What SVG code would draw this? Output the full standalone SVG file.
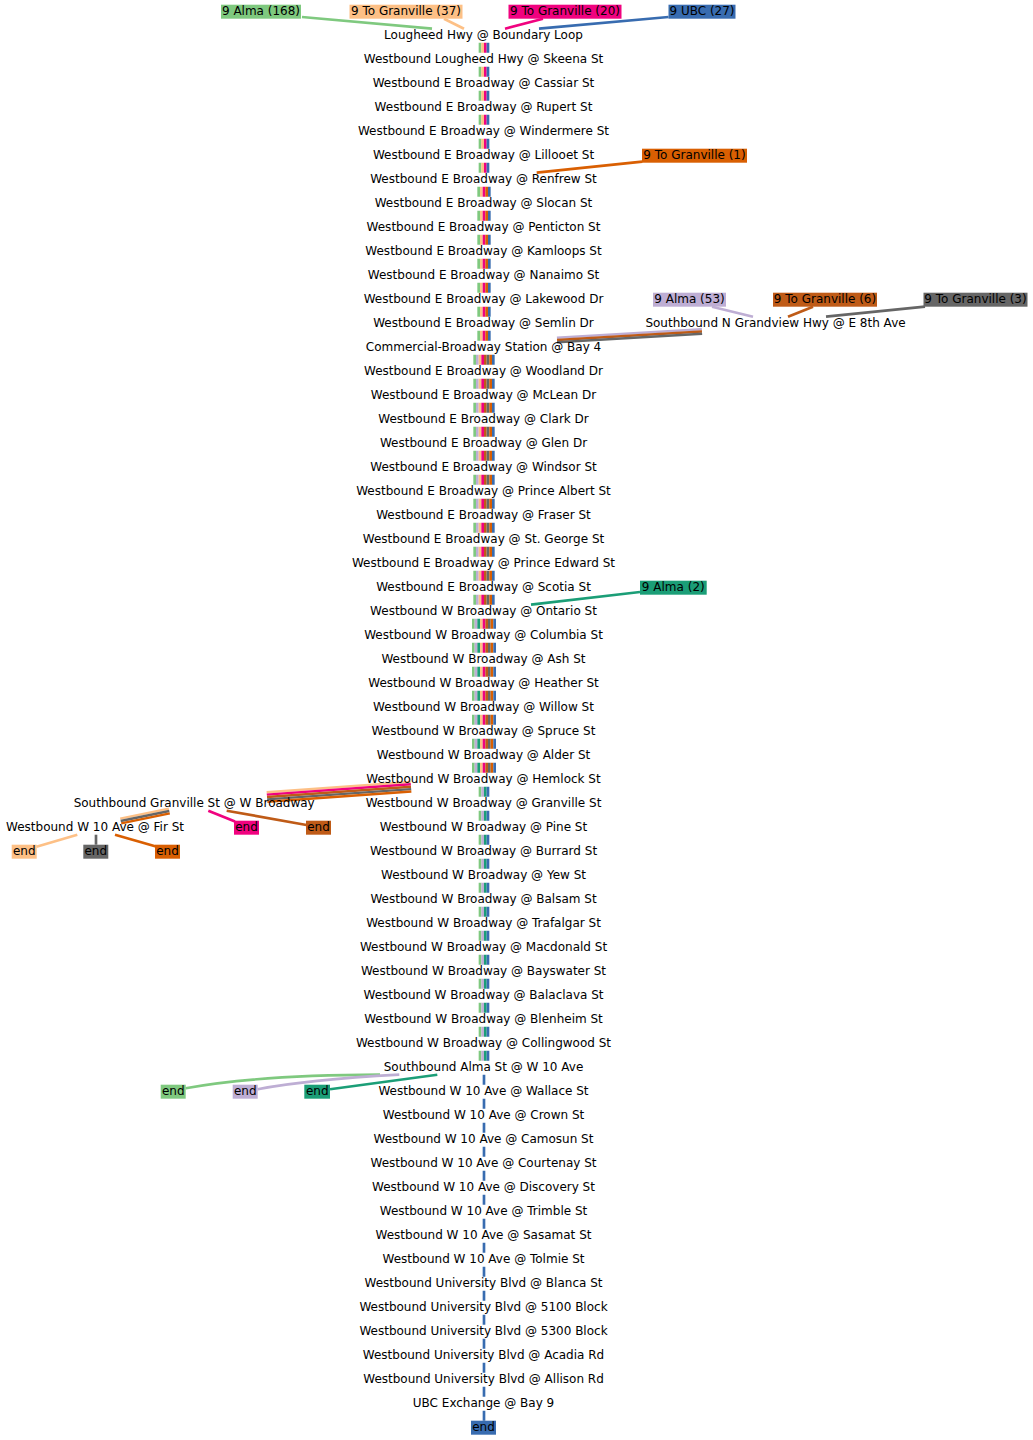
<svg xmlns="http://www.w3.org/2000/svg" width="1033" height="1440" viewBox="0 0 1033 1440">
<style>
text{font-family:"DejaVu Sans","Liberation Sans",sans-serif;font-size:12px;fill:#000;text-anchor:middle}
.e{fill:none;stroke-width:2.67}
.d{fill:none;stroke-width:2.67;stroke-dasharray:10 14}
.b{fill:none;stroke-width:2.4}
.G{stroke:#7fc97f}.L{stroke:#beaed4}.T{stroke:#1b9e77}.P{stroke:#fdc086}.K{stroke:#f0027f}.B{stroke:#bf5b17}.Y{stroke:#666666}.O{stroke:#d95f02}.U{stroke:#386cb0}
.fG{fill:#7fc97f}.fL{fill:#beaed4}.fT{fill:#1b9e77}.fP{fill:#fdc086}.fK{fill:#f0027f}.fB{fill:#bf5b17}.fY{fill:#666666}.fO{fill:#d95f02}.fU{fill:#386cb0}
</style>
<rect width="1033" height="1440" fill="#fff"/>
<g id="connectors">
<g id="secA">
<line class="d G" x1="480" y1="42.7" x2="480" y2="172.7"/>
<line class="d P" x1="482.67" y1="42.7" x2="482.67" y2="172.7"/>
<line class="d K" x1="485.33" y1="42.7" x2="485.33" y2="172.7"/>
<line class="d U" x1="488" y1="42.7" x2="488" y2="172.7"/>
</g>
<g id="secB">
<line class="d G" x1="478.67" y1="186.7" x2="478.67" y2="340.7"/>
<line class="d P" x1="481.33" y1="186.7" x2="481.33" y2="340.7"/>
<line class="d K" x1="484" y1="186.7" x2="484" y2="340.7"/>
<line class="d O" x1="486.67" y1="186.7" x2="486.67" y2="340.7"/>
<line class="d U" x1="489.33" y1="186.7" x2="489.33" y2="340.7"/>
</g>
<g id="secC">
<line class="d G" x1="474.67" y1="354.7" x2="474.67" y2="604.7"/>
<line class="d L" x1="477.33" y1="354.7" x2="477.33" y2="604.7"/>
<line class="d P" x1="480" y1="354.7" x2="480" y2="604.7"/>
<line class="d K" x1="482.67" y1="354.7" x2="482.67" y2="604.7"/>
<line class="d B" x1="485.33" y1="354.7" x2="485.33" y2="604.7"/>
<line class="d Y" x1="488" y1="354.7" x2="488" y2="604.7"/>
<line class="d O" x1="490.67" y1="354.7" x2="490.67" y2="604.7"/>
<line class="d U" x1="493.33" y1="354.7" x2="493.33" y2="604.7"/>
</g>
<g id="secD">
<line class="d G" x1="473.33" y1="618.7" x2="473.33" y2="772.7"/>
<line class="d L" x1="476" y1="618.7" x2="476" y2="772.7"/>
<line class="d T" x1="478.67" y1="618.7" x2="478.67" y2="772.7"/>
<line class="d P" x1="481.33" y1="618.7" x2="481.33" y2="772.7"/>
<line class="d K" x1="484" y1="618.7" x2="484" y2="772.7"/>
<line class="d B" x1="486.67" y1="618.7" x2="486.67" y2="772.7"/>
<line class="d Y" x1="489.33" y1="618.7" x2="489.33" y2="772.7"/>
<line class="d O" x1="492" y1="618.7" x2="492" y2="772.7"/>
<line class="d U" x1="494.67" y1="618.7" x2="494.67" y2="772.7"/>
</g>
<g id="secE">
<line class="d G" x1="480" y1="786.7" x2="480" y2="1060.7"/>
<line class="d L" x1="482.67" y1="786.7" x2="482.67" y2="1060.7"/>
<line class="d T" x1="485.33" y1="786.7" x2="485.33" y2="1060.7"/>
<line class="d U" x1="488" y1="786.7" x2="488" y2="1060.7"/>
</g>
<g id="secF">
<line class="d U" x1="484" y1="1074.7" x2="484" y2="1420.7"/>
</g>
<path class="e G" d="M302,17 L432,28.7"/>
<path class="e P" d="M444,18.7 L464,28.7"/>
<path class="e K" d="M543,18.7 L505,28.7"/>
<path class="e U" d="M668.5,17 L539,28.7"/>
<path class="e O" d="M642.3,161.7 L536.7,172.7"/>
<path class="e L" d="M712,306.7 L753,316.7"/>
<path class="e B" d="M813,306.7 L788,316.7"/>
<path class="e Y" d="M925,306.7 L826,316.7"/>
<path class="e T" d="M640,592 L531,604.7"/>
<path class="b L" d="M701.9,329.3 L556.9,337.8"/>
<path class="b B" d="M702,331.5 L557,340"/>
<path class="b Y" d="M702.1,333.7 L557.1,342.2"/>
<path class="b P" d="M410.66,781.9 L266.66,792.2"/>
<path class="b K" d="M410.83,784.3 L266.83,794.6"/>
<path class="b B" d="M411,786.7 L267,797"/>
<path class="b Y" d="M411.17,789.1 L267.17,799.4"/>
<path class="b O" d="M411.34,791.5 L267.34,801.8"/>
<path class="e K" d="M208.3,810.7 L235,821.5"/>
<path class="e B" d="M226.7,810.7 L306.5,825"/>
<path class="b P" d="M168.8,808.6 L120.2,818.6"/>
<path class="b Y" d="M169.3,811 L120.7,821"/>
<path class="b O" d="M169.8,813.4 L121.2,823.4"/>
<path class="e P" d="M77.3,834.7 L36.5,846.7"/>
<path class="e Y" d="M96,834.7 L96,844.7"/>
<path class="e O" d="M115,834.7 L156,846.5"/>
<path class="e G" d="M380,1074.7 C300,1075 230,1080 185.7,1088.3"/>
<path class="e L" d="M399.3,1074.7 C340,1078 290,1083 257.7,1089.3"/>
<path class="e T" d="M437.3,1074.7 L330,1089.3"/>
</g>
<g id="routes">
<g id="r-alma168"><rect class="fG" x="221" y="4.7" width="80" height="14"/><text x="261" y="15">9 Alma (168)</text></g>
<g id="r-gran37"><rect class="fP" x="349.5" y="4.7" width="113" height="14"/><text x="406" y="15">9 To Granville (37)</text></g>
<g id="r-gran20"><rect class="fK" x="508.5" y="4.7" width="113" height="14"/><text x="565" y="15">9 To Granville (20)</text></g>
<g id="r-ubc27"><rect class="fU" x="668.5" y="4.7" width="67" height="14"/><text x="702" y="15">9 UBC (27)</text></g>
<g id="r-gran1"><rect class="fO" x="642" y="148.7" width="105" height="14"/><text x="694.5" y="159">9 To Granville (1)</text></g>
<g id="r-alma53"><rect class="fL" x="653" y="292.7" width="73" height="14"/><text x="689.5" y="303">9 Alma (53)</text></g>
<g id="r-gran6"><rect class="fB" x="773" y="292.7" width="104" height="14"/><text x="825" y="303">9 To Granville (6)</text></g>
<g id="r-gran3"><rect class="fY" x="923.5" y="292.7" width="104" height="14"/><text x="975.5" y="303">9 To Granville (3)</text></g>
<g id="r-alma2"><rect class="fT" x="640" y="580.7" width="66.7" height="14"/><text x="673.3" y="591">9 Alma (2)</text></g>
</g>
<g id="ends">
<g id="end-gran-K"><rect class="fK" x="234" y="820.7" width="25" height="14"/><text x="246.5" y="831">end</text></g>
<g id="end-gran-B"><rect class="fB" x="306" y="820.7" width="25" height="14"/><text x="318.5" y="831">end</text></g>
<g id="end-fir-P"><rect class="fP" x="11.7" y="844.7" width="25" height="14"/><text x="24.2" y="855">end</text></g>
<g id="end-fir-Y"><rect class="fY" x="83.3" y="844.7" width="25" height="14"/><text x="95.8" y="855">end</text></g>
<g id="end-fir-O"><rect class="fO" x="155" y="844.7" width="25" height="14"/><text x="167.5" y="855">end</text></g>
<g id="end-alma-G"><rect class="fG" x="160.7" y="1084.7" width="25" height="14"/><text x="173.2" y="1095">end</text></g>
<g id="end-alma-L"><rect class="fL" x="232.7" y="1084.7" width="25" height="14"/><text x="245.2" y="1095">end</text></g>
<g id="end-alma-T"><rect class="fT" x="304.3" y="1084.7" width="25.7" height="14"/><text x="317.2" y="1095">end</text></g>
<g id="end-ubc-U"><rect class="fU" x="471" y="1420.7" width="25" height="14"/><text x="483.5" y="1431">end</text></g>
</g>
<g id="stops">
<g id="s00"><text x="483.5" y="39">Lougheed Hwy @ Boundary Loop</text></g>
<g id="s01"><text x="483.5" y="63">Westbound Lougheed Hwy @ Skeena St</text></g>
<g id="s02"><text x="483.5" y="87">Westbound E Broadway @ Cassiar St</text></g>
<g id="s03"><text x="483.5" y="111">Westbound E Broadway @ Rupert St</text></g>
<g id="s04"><text x="483.5" y="135">Westbound E Broadway @ Windermere St</text></g>
<g id="s05"><text x="483.5" y="159">Westbound E Broadway @ Lillooet St</text></g>
<g id="s06"><text x="483.5" y="183">Westbound E Broadway @ Renfrew St</text></g>
<g id="s07"><text x="483.5" y="207">Westbound E Broadway @ Slocan St</text></g>
<g id="s08"><text x="483.5" y="231">Westbound E Broadway @ Penticton St</text></g>
<g id="s09"><text x="483.5" y="255">Westbound E Broadway @ Kamloops St</text></g>
<g id="s10"><text x="483.5" y="279">Westbound E Broadway @ Nanaimo St</text></g>
<g id="s11"><text x="483.5" y="303">Westbound E Broadway @ Lakewood Dr</text></g>
<g id="s12"><text x="483.5" y="327">Westbound E Broadway @ Semlin Dr</text></g>
<g id="s13"><text x="483.5" y="351">Commercial-Broadway Station @ Bay 4</text></g>
<g id="s14"><text x="483.5" y="375">Westbound E Broadway @ Woodland Dr</text></g>
<g id="s15"><text x="483.5" y="399">Westbound E Broadway @ McLean Dr</text></g>
<g id="s16"><text x="483.5" y="423">Westbound E Broadway @ Clark Dr</text></g>
<g id="s17"><text x="483.5" y="447">Westbound E Broadway @ Glen Dr</text></g>
<g id="s18"><text x="483.5" y="471">Westbound E Broadway @ Windsor St</text></g>
<g id="s19"><text x="483.5" y="495">Westbound E Broadway @ Prince Albert St</text></g>
<g id="s20"><text x="483.5" y="519">Westbound E Broadway @ Fraser St</text></g>
<g id="s21"><text x="483.5" y="543">Westbound E Broadway @ St. George St</text></g>
<g id="s22"><text x="483.5" y="567">Westbound E Broadway @ Prince Edward St</text></g>
<g id="s23"><text x="483.5" y="591">Westbound E Broadway @ Scotia St</text></g>
<g id="s24"><text x="483.5" y="615">Westbound W Broadway @ Ontario St</text></g>
<g id="s25"><text x="483.5" y="639">Westbound W Broadway @ Columbia St</text></g>
<g id="s26"><text x="483.5" y="663">Westbound W Broadway @ Ash St</text></g>
<g id="s27"><text x="483.5" y="687">Westbound W Broadway @ Heather St</text></g>
<g id="s28"><text x="483.5" y="711">Westbound W Broadway @ Willow St</text></g>
<g id="s29"><text x="483.5" y="735">Westbound W Broadway @ Spruce St</text></g>
<g id="s30"><text x="483.5" y="759">Westbound W Broadway @ Alder St</text></g>
<g id="s31"><text x="483.5" y="783">Westbound W Broadway @ Hemlock St</text></g>
<g id="s32"><text x="483.5" y="807">Westbound W Broadway @ Granville St</text></g>
<g id="s33"><text x="483.5" y="831">Westbound W Broadway @ Pine St</text></g>
<g id="s34"><text x="483.5" y="855">Westbound W Broadway @ Burrard St</text></g>
<g id="s35"><text x="483.5" y="879">Westbound W Broadway @ Yew St</text></g>
<g id="s36"><text x="483.5" y="903">Westbound W Broadway @ Balsam St</text></g>
<g id="s37"><text x="483.5" y="927">Westbound W Broadway @ Trafalgar St</text></g>
<g id="s38"><text x="483.5" y="951">Westbound W Broadway @ Macdonald St</text></g>
<g id="s39"><text x="483.5" y="975">Westbound W Broadway @ Bayswater St</text></g>
<g id="s40"><text x="483.5" y="999">Westbound W Broadway @ Balaclava St</text></g>
<g id="s41"><text x="483.5" y="1023">Westbound W Broadway @ Blenheim St</text></g>
<g id="s42"><text x="483.5" y="1047">Westbound W Broadway @ Collingwood St</text></g>
<g id="s43"><text x="483.5" y="1071">Southbound Alma St @ W 10 Ave</text></g>
<g id="s44"><text x="483.5" y="1095">Westbound W 10 Ave @ Wallace St</text></g>
<g id="s45"><text x="483.5" y="1119">Westbound W 10 Ave @ Crown St</text></g>
<g id="s46"><text x="483.5" y="1143">Westbound W 10 Ave @ Camosun St</text></g>
<g id="s47"><text x="483.5" y="1167">Westbound W 10 Ave @ Courtenay St</text></g>
<g id="s48"><text x="483.5" y="1191">Westbound W 10 Ave @ Discovery St</text></g>
<g id="s49"><text x="483.5" y="1215">Westbound W 10 Ave @ Trimble St</text></g>
<g id="s50"><text x="483.5" y="1239">Westbound W 10 Ave @ Sasamat St</text></g>
<g id="s51"><text x="483.5" y="1263">Westbound W 10 Ave @ Tolmie St</text></g>
<g id="s52"><text x="483.5" y="1287">Westbound University Blvd @ Blanca St</text></g>
<g id="s53"><text x="483.5" y="1311">Westbound University Blvd @ 5100 Block</text></g>
<g id="s54"><text x="483.5" y="1335">Westbound University Blvd @ 5300 Block</text></g>
<g id="s55"><text x="483.5" y="1359">Westbound University Blvd @ Acadia Rd</text></g>
<g id="s56"><text x="483.5" y="1383">Westbound University Blvd @ Allison Rd</text></g>
<g id="s57"><text x="483.5" y="1407">UBC Exchange @ Bay 9</text></g>
<g id="grandview"><text x="775.5" y="327">Southbound N Grandview Hwy @ E 8th Ave</text></g>
<g id="granville"><text x="194.2" y="807">Southbound Granville St @ W Broadway</text></g>
<g id="fir"><text x="95" y="831">Westbound W 10 Ave @ Fir St</text></g>
</g>
</svg>
